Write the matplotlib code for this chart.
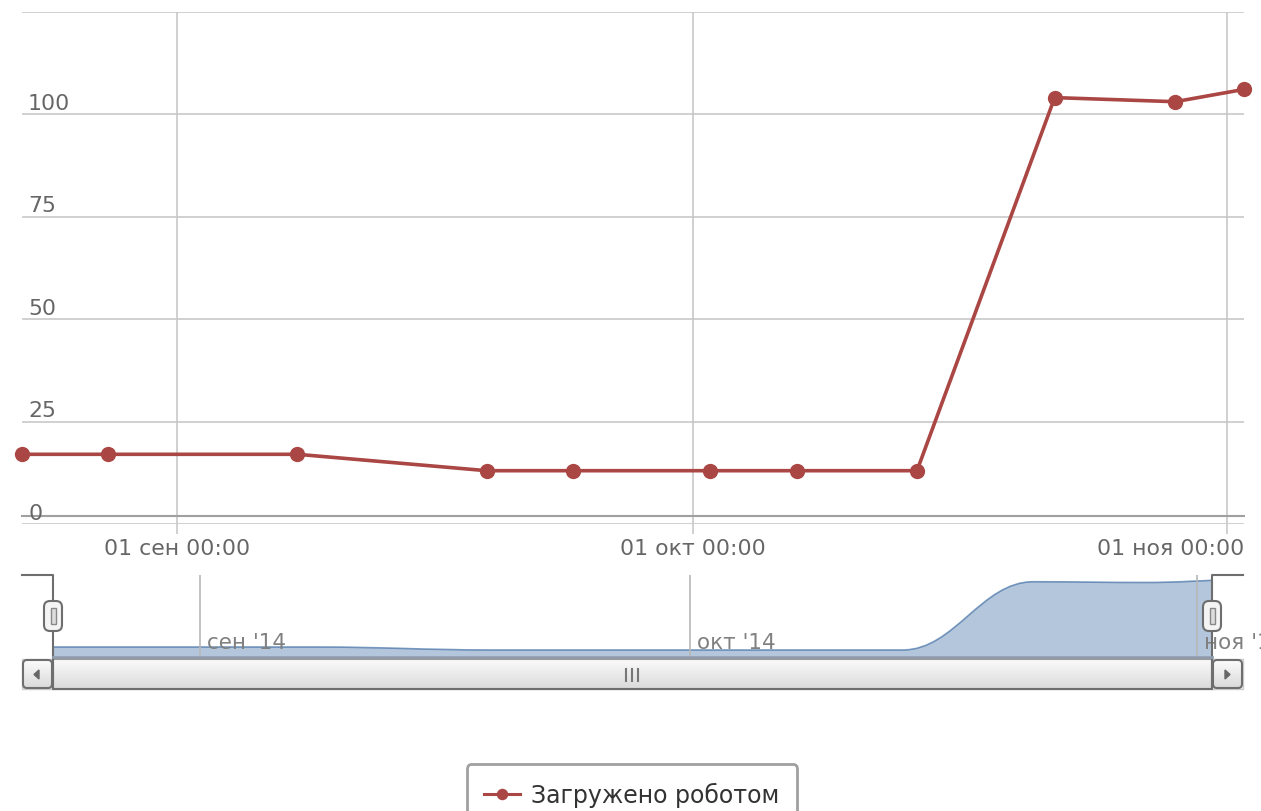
import matplotlib
matplotlib.use('Agg')
import matplotlib.pyplot as plt
import matplotlib.dates as mdates
import matplotlib.transforms as mtrans
from matplotlib.path import Path
from matplotlib.patches import PathPatch, FancyBboxPatch, Rectangle, Polygon
from matplotlib.lines import Line2D
import numpy as np
import datetime as dt

# ---------------- data ----------------
dates = ['2014-08-23', '2014-08-28', '2014-09-08', '2014-09-19', '2014-09-24',
         '2014-10-02', '2014-10-07', '2014-10-14', '2014-10-22', '2014-10-29',
         '2014-11-02']
values = [17, 17, 17, 13, 13, 13, 13, 13, 104, 103, 106]
series_name = 'Загружено роботом'

month_ticks = ['2014-09-01', '2014-10-01', '2014-11-01']
main_tick_labels = ['01 сен 00:00', '01 окт 00:00', '01 ноя 00:00']
nav_tick_labels = ["сен '14", "окт '14", "ноя '14"]
y_grid = [0, 25, 50, 75, 100, 125]
y_labels = [0, 25, 50, 75, 100]

LINE_COLOR = '#AA4643'
NAV_COLOR = '#4572A7'
GRID = '#C8C8C8'
LABEL = '#666666'

plt.rcParams['font.family'] = ['DejaVu Sans']

W, H = 1261, 812
fig = plt.figure(figsize=(W / 100, H / 100), dpi=100)


def px_axes(x0, y0, x1, y1, **kw):
    return fig.add_axes([x0 / W, 1 - y1 / H, (x1 - x0) / W, (y1 - y0) / H], **kw)


xnum = mdates.date2num([dt.datetime.strptime(d, '%Y-%m-%d') for d in dates])
tnum = mdates.date2num([dt.datetime.strptime(d, '%Y-%m-%d') for d in month_ticks])

# ---------------- main chart ----------------
ax = px_axes(22, 12.5, 1244, 525)
ax.set_xlim(xnum[0], xnum[-1])
ax.set_ylim(0, 125)
for s in ax.spines.values():
    s.set_visible(False)
ax.set_yticks(y_grid)
ax.set_yticklabels([])
ax.tick_params(axis='y', length=0)
ax.set_xticks(tnum)
ax.set_xticklabels(main_tick_labels, fontsize=15.8, color=LABEL)
ax.tick_params(axis='x', direction='out', length=7, width=1.2, color=GRID, pad=3)
ax.grid(True, color=GRID, linewidth=1.2)
ax.set_axisbelow(True)

blend_y = mtrans.blended_transform_factory(ax.transAxes, ax.transData)
for v in y_labels:
    ax.annotate(str(v), xy=(0, v), xycoords=blend_y, xytext=(6, 5),
                textcoords='offset pixels', ha='left', va='baseline',
                fontsize=15.8, color=LABEL, annotation_clip=False)

# x axis line (sits slightly above the zero gridline)
axis_line = Line2D([0, 1], [0, 0], color='#A0A0A0', linewidth=1.5,
                   transform=ax.transAxes + mtrans.ScaledTranslation(0, 8 / 100, fig.dpi_scale_trans))
ax.add_line(axis_line)
axis_line.set_clip_on(False)

line, = ax.plot(xnum, values, color=LINE_COLOR, linewidth=2.6, marker='o',
                markersize=11, markeredgewidth=0, clip_on=False, zorder=5)

# ---------------- navigator ----------------
nav = px_axes(53, 576, 1213, 657)
nav.set_xlim(xnum[0], xnum[-1])
nav.set_ylim(5, 113)
nav.axis('off')


def hc_spline_path(xs, ys, smoothing=1.5):
    n = len(xs)
    denom = smoothing + 1
    left = [None] * n
    right = [None] * n
    for i in range(1, n - 1):
        lx, ly = xs[i - 1], ys[i - 1]
        nx, ny = xs[i + 1], ys[i + 1]
        px, py = xs[i], ys[i]
        lcx = (smoothing * px + lx) / denom
        lcy = (smoothing * py + ly) / denom
        rcx = (smoothing * px + nx) / denom
        rcy = (smoothing * py + ny) / denom
        corr = ((rcy - lcy) * (rcx - px)) / (rcx - lcx) + py - rcy
        lcy += corr
        rcy += corr
        if lcy > ly and lcy > py:
            lcy = max(ly, py); rcy = 2 * py - lcy
        elif lcy < ly and lcy < py:
            lcy = min(ly, py); rcy = 2 * py - lcy
        if rcy > ny and rcy > py:
            rcy = max(ny, py); lcy = 2 * py - rcy
        elif rcy < ny and rcy < py:
            rcy = min(ny, py); lcy = 2 * py - rcy
        left[i] = (lcx, lcy)
        right[i] = (rcx, rcy)
    verts = [(xs[0], ys[0])]
    codes = [Path.MOVETO]
    for i in range(1, n):
        c1 = right[i - 1] if right[i - 1] is not None else (xs[i - 1], ys[i - 1])
        c2 = left[i] if left[i] is not None else (xs[i], ys[i])
        verts += [c1, c2, (xs[i], ys[i])]
        codes += [Path.CURVE4] * 3
    return verts, codes


v, c = hc_spline_path(list(xnum), list(values))
base = nav.get_ylim()[0]
fill_path = Path(v + [(xnum[-1], base), (xnum[0], base), (xnum[0], base)],
                 c + [Path.LINETO, Path.LINETO, Path.CLOSEPOLY])
nav.add_patch(PathPatch(fill_path, facecolor=NAV_COLOR, alpha=0.4, edgecolor='none', zorder=1))
nav.add_patch(PathPatch(Path(v, c), facecolor='none', edgecolor=NAV_COLOR, linewidth=1.2,
                        alpha=0.7, zorder=2))
for t, lab in zip(tnum, nav_tick_labels):
    nav.axvline(t, color='#B8B8B8', linewidth=1.2, zorder=3)
    nav.annotate(lab, xy=(t, 0), xycoords=nav.get_xaxis_transform(), xytext=(7, 14),
                 textcoords='offset pixels', ha='left', va='center', fontsize=15.5,
                 color='#808080', annotation_clip=False, zorder=4)

# ---------------- overlay: outline, handles, scrollbar ----------------
ov = fig.add_axes([0, 0, 1, 1], zorder=10)
ov.patch.set_alpha(0)
ov.axis('off')

grad = np.linspace(0, 1, 64).reshape(-1, 1)
bar_cmap = matplotlib.colors.LinearSegmentedColormap.from_list('bar', ['#FBFBFB', '#DADADA'])
# track
ov.add_patch(Rectangle((22, 660), 1221, 30, facecolor='#EEEEEE', edgecolor='#CCCCCC', lw=1))
# scrollbar bar
ov.imshow(grad, extent=(53, 1212, 690, 660), cmap=bar_cmap, aspect='auto', zorder=1)
ov.add_patch(Rectangle((53, 660), 1159, 30, facecolor='none', edgecolor='#9A9A9A', lw=1.5, zorder=2))
# buttons
for bx in (22, 1212):
    ov.imshow(grad, extent=(bx + 1, bx + 30, 689, 661), cmap=bar_cmap, aspect='auto', zorder=2)
    ov.add_patch(FancyBboxPatch((bx + 1, 661), 29, 28, boxstyle='round,pad=0,rounding_size=4',
                                facecolor='none', edgecolor='#6E6E6E', lw=1.5, zorder=3))
ov.add_patch(Polygon([(39, 671), (39, 680), (34, 675.5)], closed=True, color='#666666', zorder=4))
ov.add_patch(Polygon([(1225, 671), (1225, 680), (1230, 675.5)], closed=True, color='#666666', zorder=4))
# grip
for gx in (626, 632, 638):
    ov.add_line(Line2D([gx, gx], [670, 682], color='#777777', lw=1.5, zorder=4))
# navigator outline
ov.add_line(Line2D([22, 53, 53, 1212, 1212, 1243], [576, 576, 690, 690, 576, 576],
                   color='#6E6E6E', lw=1.5, zorder=5))
ov.add_line(Line2D([53, 1212], [657.5, 657.5], color='#8F9BAE', lw=2, zorder=5))
# handles
for hx in (53, 1212):
    ov.add_patch(FancyBboxPatch((hx - 9, 602), 18, 30, boxstyle='round,pad=0,rounding_size=6',
                                facecolor='#F4F4F4', edgecolor='#6E6E6E', lw=1.5, zorder=6))
    ov.add_patch(Rectangle((hx - 2.5, 609), 5, 16, facecolor='#DDDDDD', edgecolor='#888888',
                           lw=1, zorder=7))
ov.set_xlim(0, W)
ov.set_ylim(H, 0)

# ---------------- legend ----------------
leg = fig.legend([line], [series_name], loc='upper center',
                 bbox_to_anchor=(632 / W, 1 - 765 / H), fontsize=17, frameon=True,
                 fancybox=True, edgecolor='#A0A0A0', framealpha=1, borderpad=0.75,
                 borderaxespad=0, handlelength=1.5, handletextpad=0.5, markerscale=0.75)
leg.get_frame().set_linewidth(2)
for t in leg.get_texts():
    t.set_color('#333333')
for lh in leg.legend_handles:
    lh.set_linewidth(2.2)

# keep last x tick label inside the plot (as the original does)
fig.canvas.draw()
renderer = fig.canvas.get_renderer()
ax_right = ax.get_window_extent(renderer).x1
for lab in ax.get_xticklabels():
    bb = lab.get_window_extent(renderer)
    if bb.x1 > ax_right:
        dx = bb.x1 - ax_right
        lab.set_transform(lab.get_transform() + mtrans.ScaledTranslation(-dx / 100, 0, fig.dpi_scale_trans))

fig.savefig('out.png', dpi=100)
